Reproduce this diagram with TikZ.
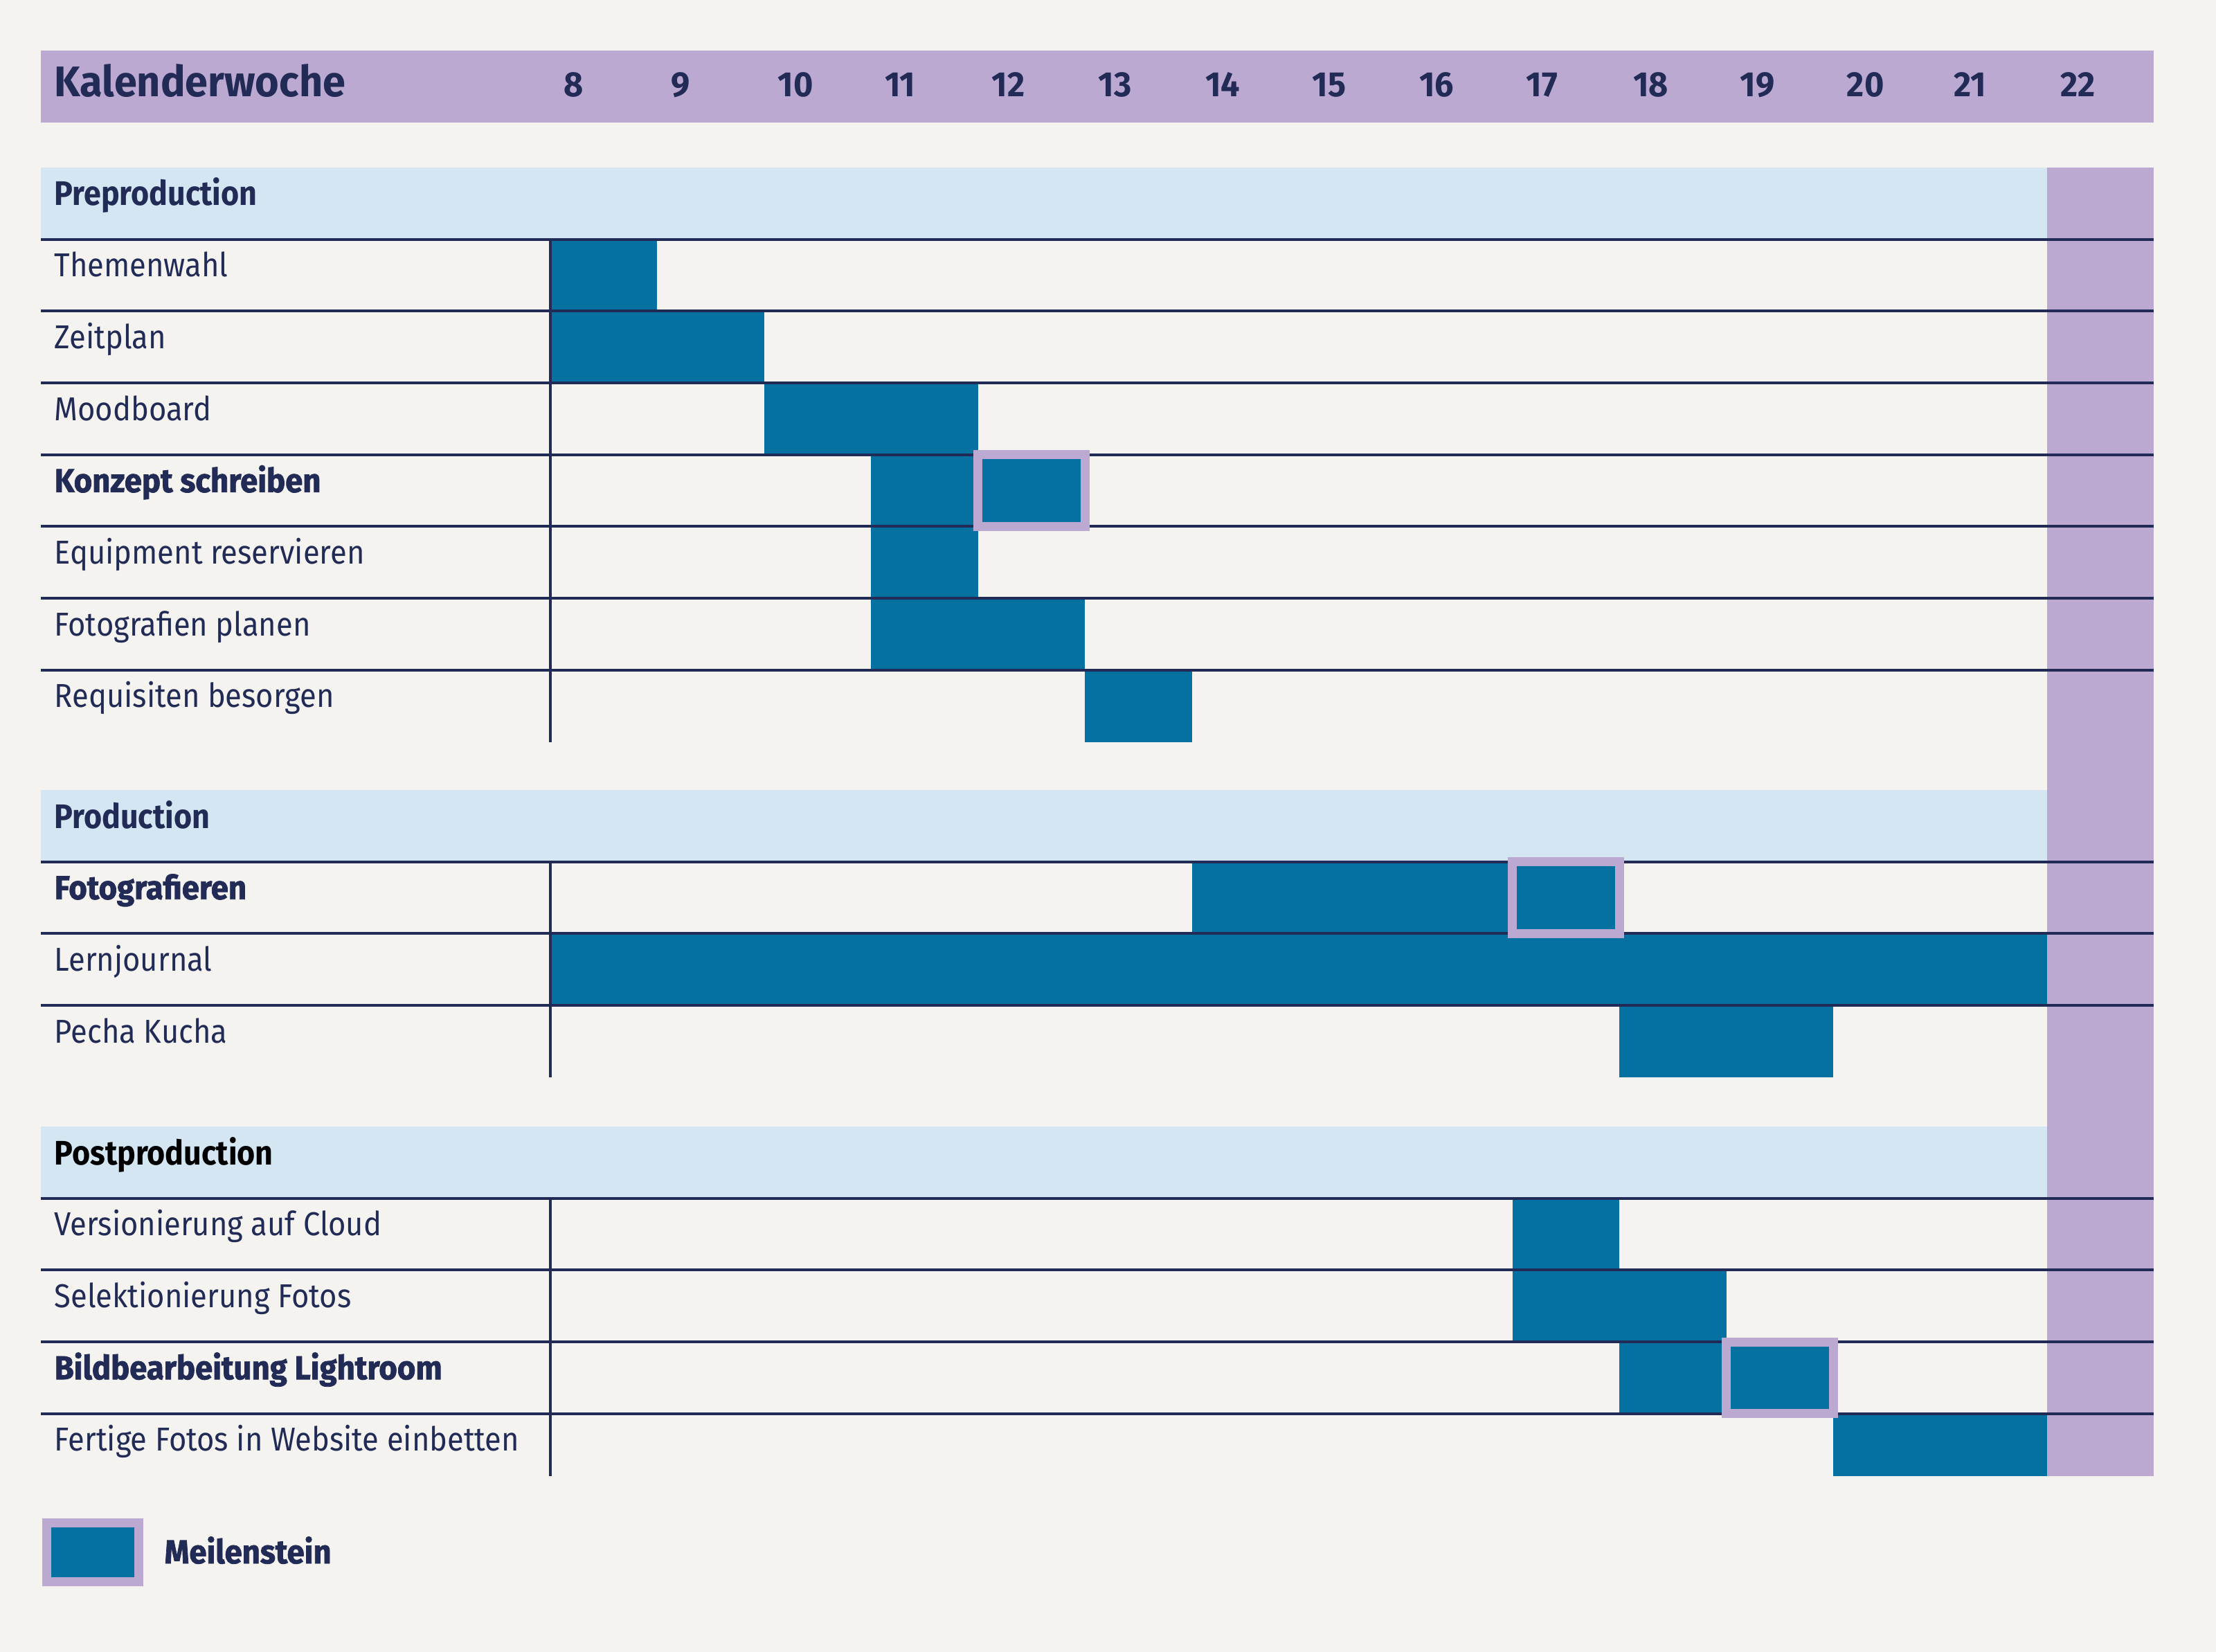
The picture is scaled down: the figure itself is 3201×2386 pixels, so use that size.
\documentclass[tikz,border=0pt]{standalone}
\usepackage{fontspec}
\setmainfont{Fira Sans}[FakeStretch=0.91]
\newfontfamily\headfont{Fira Sans}[FakeStretch=0.96]
\newfontfamily\heavyfont{Fira Sans}[FakeStretch=0.95,BoldFeatures={FakeBold=1.6}]
\definecolor{Paper}{RGB}{244,243,239}
\definecolor{Lavender}{RGB}{187,169,209}
\definecolor{PaleBlue}{RGB}{212,230,242}
\definecolor{BarBlue}{RGB}{5,113,161}
\definecolor{Navy}{RGB}{33,43,86}
\tikzset{
  headlabel/.style={anchor=base west,inner sep=0pt,text=Navy,
    font=\headfont\bfseries\fontsize{17.6}{20}\selectfont},
  weeklabel/.style={anchor=base west,inner sep=0pt,text=Navy,
    font=\headfont\bfseries\fontsize{14.4}{16}\selectfont},
  phaselabel/.style={anchor=base west,inner sep=0pt,
    font=\bfseries\fontsize{14}{16}\selectfont},
  tasklabel/.style={anchor=base west,inner sep=0pt,text=Navy,
    font=\fontsize{13.6}{15}\selectfont},
  keytask/.style={anchor=base west,inner sep=0pt,text=Navy,
    font=\heavyfont\bfseries\fontsize{13.6}{15}\selectfont},
  taskbar/.style={fill=BarBlue},
  rowline/.style={draw=Navy,line width=0.04cm},
  milestone/.style={draw=Lavender,line width=0.13cm,fill=BarBlue}
}
% bar from week #3 to week #4 between y=#1 and y=#2
\newcommand\ganttbar[4]{%
  \fill[taskbar] ({795+(#3-8)*154.43},#1) rectangle ({795+(#4-7)*154.43},#2);}
\newcommand\ganttmile[3]{%
  \draw[milestone] ({795+(#3-8)*154.43},#1) rectangle ({795+(#3-7)*154.43},#2);}

\begin{document}
\begin{tikzpicture}[x=0.01cm,y=-0.01cm]
\useasboundingbox[fill=Paper] (0,0) rectangle (3201,2386);

% header
\fill[Lavender] (59,73) rectangle (3111,177);
\node[headlabel] (kw) at (78,140) {Kalenderwoche};
\foreach \w in {8,...,22}
  \node[weeklabel] (wk\w) at ({795+(\w-8)*154.43+19},140) {\w};

% phase bands and week 22
\foreach \y/\name/\txt/\col in {242/pre/Preproduction/Navy,
    1141/prod/Production/Navy,1627/post/Postproduction/black}{
  \fill[PaleBlue] (59,\y) rectangle (2957,\y+103.7);
  \node[phaselabel,text=\col] (\name) at (78,\y+55) {\txt};
}
\fill[Lavender] (2957,242) rectangle (3111,2132);

% bars
\ganttbar{345.7}{449.4}{8}{8}
\ganttbar{449.4}{553.1}{8}{9}
\ganttbar{553.1}{656.8}{10}{11}
\ganttbar{656.8}{760.5}{11}{11}
\ganttbar{760.5}{864.2}{11}{11}
\ganttbar{864.2}{967.9}{11}{12}
\ganttbar{967.9}{1071.6}{13}{13}
\ganttbar{1244.7}{1348.4}{14}{16}
\ganttbar{1348.4}{1452.1}{8}{21}
\ganttbar{1452.1}{1555.8}{18}{19}
\ganttbar{1730.7}{1834.4}{17}{17}
\ganttbar{1834.4}{1938.1}{17}{18}
\ganttbar{1938.1}{2041.8}{18}{18}
\ganttbar{2041.8}{2132}{20}{21}

% grid
\foreach \y in {345.7,449.4,553.1,656.8,760.5,864.2,967.9,
    1244.7,1348.4,1452.1,1730.7,1834.4,1938.1,2041.8}
  \draw[rowline] (59,\y) -- (3111,\y);
\draw[rowline] (795,345.7) -- (795,1071.6);
\draw[rowline] (795,1244.7) -- (795,1555.8);
\draw[rowline] (795,1730.7) -- (795,2132);

% milestones
\ganttmile{656.8}{760.5}{12}
\ganttmile{1244.7}{1348.4}{17}
\ganttmile{1938.1}{2041.8}{19}

% task names
\foreach \y/\txt/\sty [count=\i] in {345.7/Themenwahl/tasklabel,
    449.4/Zeitplan/tasklabel,553.1/Moodboard/tasklabel,
    656.8/Konzept schreiben/keytask,760.5/Equipment reservieren/tasklabel,
    864.2/Fotografien planen/tasklabel,967.9/Requisiten besorgen/tasklabel,
    1244.7/Fotografieren/keytask,1348.4/Lernjournal/tasklabel,
    1452.1/Pecha Kucha/tasklabel,1730.7/Versionierung auf Cloud/tasklabel,
    1834.4/Selektionierung Fotos/tasklabel,
    1938.1/Bildbearbeitung Lightroom/keytask,
    2041.8/Fertige Fotos in Website einbetten/tasklabel}
  \node[\sty] (task\i) at (78,\y+54) {\txt};

% legend
\draw[milestone] (67.5,2199.5) rectangle (200.5,2284.5);
\node[keytask] (legend) at (237,2258) {Meilenstein};

\end{tikzpicture}
\end{document}
